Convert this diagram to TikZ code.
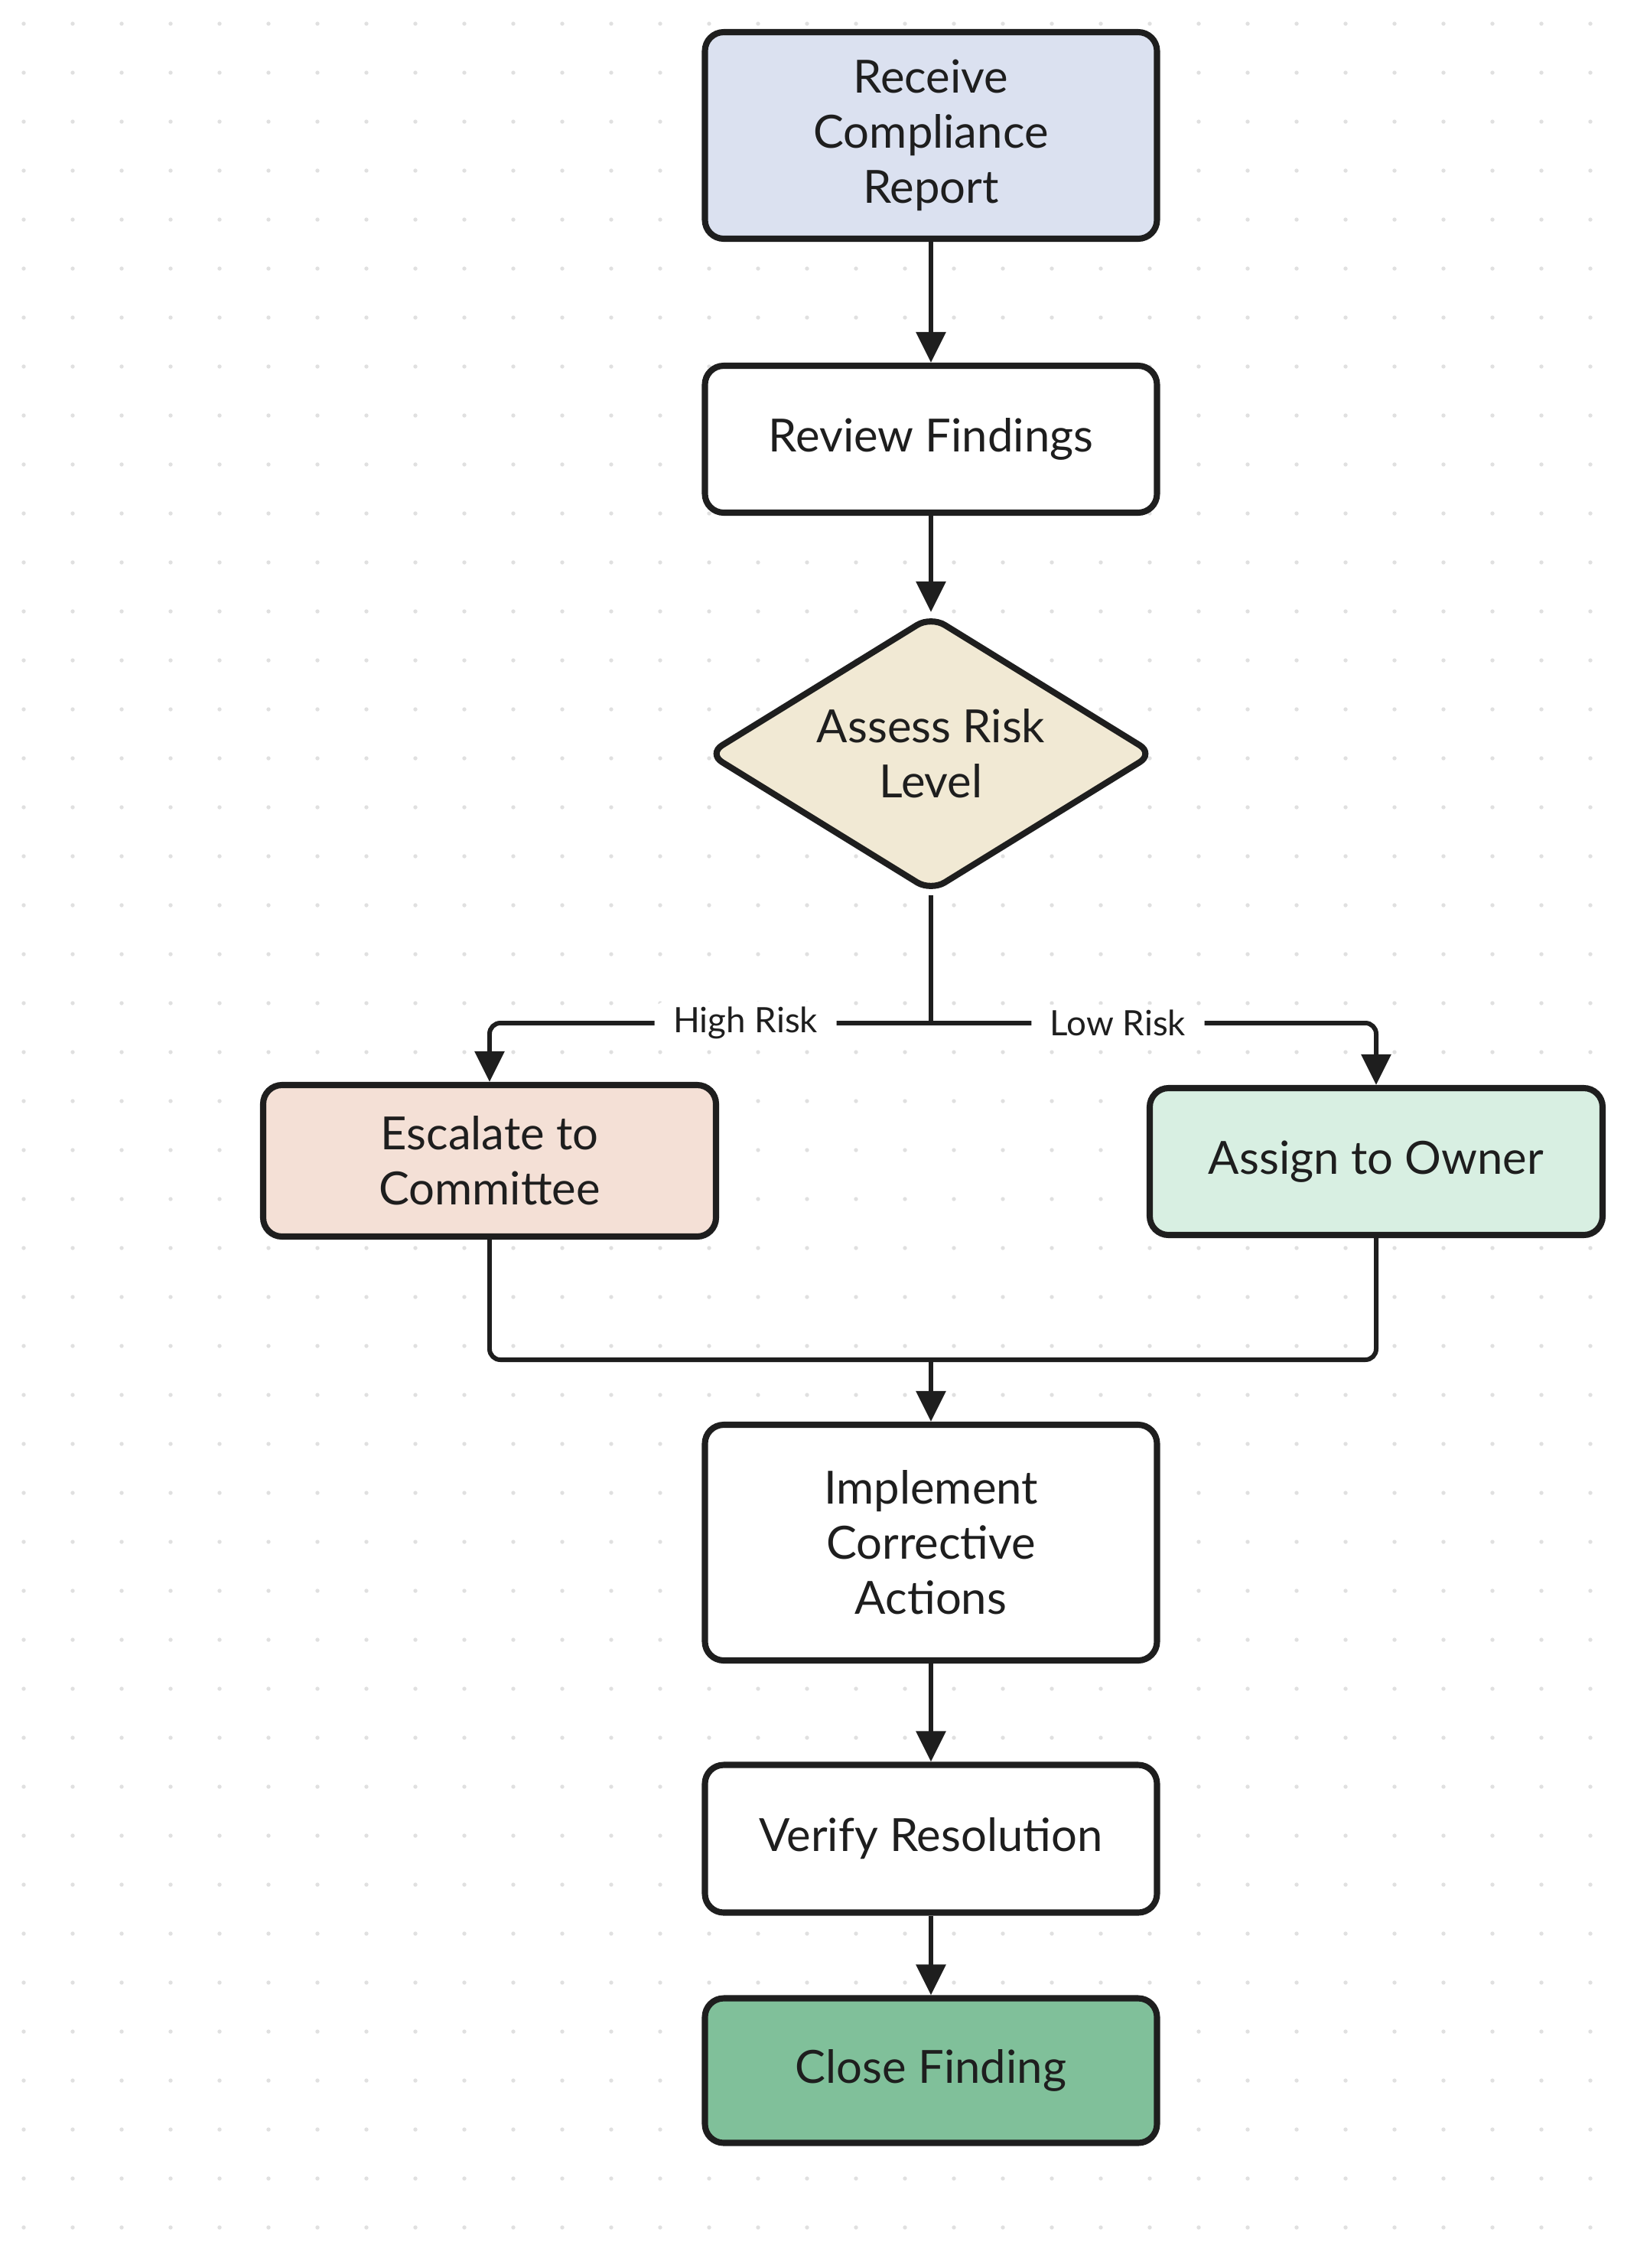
\documentclass[tikz,border=0pt]{standalone}
\usepackage{fontspec}
\setmainfont{Lato}
\usetikzlibrary{shapes.geometric,arrows.meta,positioning,calc}

\definecolor{inkblack}{HTML}{1E1E1E}
\definecolor{startblue}{HTML}{DBE1F0}
\definecolor{decisionsand}{HTML}{F1E9D4}
\definecolor{escalatepeach}{HTML}{F4E0D6}
\definecolor{ownermint}{HTML}{D8EFE2}
\definecolor{closegreen}{HTML}{80C09A}
\definecolor{griddot}{HTML}{E0E0E0}

\tikzset{
  stepbox/.style={draw=inkblack, line width=2.3pt, rounded corners=7pt, fill=white,
    minimum width=5.91cm, minimum height=1.92cm, align=center, text=inkblack,
    font=\fontsize{17}{20.5}\selectfont},
  decision/.style={diamond, draw=inkblack, line width=2.3pt, rounded corners=6pt,
    fill=decisionsand, aspect=1.63, minimum width=5.85cm, minimum height=3.62cm,
    inner sep=0pt, align=center, text=inkblack, font=\fontsize{17}{20.5}\selectfont},
  flow/.style={draw=inkblack, line width=1.7pt, rounded corners=4pt,
    -{Triangle[length=4mm,width=3.8mm]}},
  link/.style={draw=inkblack, line width=1.7pt, rounded corners=4pt},
  risklabel/.style={fill=white, text=inkblack, inner xsep=7pt, inner ysep=2pt,
    font=\fontsize{13}{15}\selectfont}
}

\begin{document}
\begin{tikzpicture}

% ================= BACKGROUND: DOT GRID =================
\useasboundingbox[fill=white] (0,0) rectangle (21.40,-29.64);
\foreach \gx in {0,...,32}
  \foreach \gy in {0,...,45}
    \fill[griddot] ({0.31+0.64*\gx},{-0.31-0.64*\gy}) circle (0.027);

% ================= MAIN COLUMN =================
\node[stepbox, fill=startblue, minimum height=2.70cm] (receive) at (12.17,-1.77)
{Receive\\Compliance\\Report};

\node[stepbox] (review) at (12.17,-5.74) {Review Findings};

\node[decision] (assess) at (12.17,-9.85) {Assess Risk\\Level};

% ================= BRANCHES =================
\node[stepbox, fill=escalatepeach, minimum width=5.92cm, minimum height=1.98cm]
(escalate) at (6.40,-15.17) {Escalate to\\Committee};

\node[stepbox, fill=ownermint, minimum width=5.92cm] (assign) at (17.99,-15.18)
{Assign to Owner};

\coordinate (split) at (12.17,-13.37);
\coordinate (merge) at (12.17,-17.77);

% ================= LOWER COLUMN =================
\node[stepbox, minimum height=3.08cm] (implement) at (12.17,-20.16)
{Implement\\Corrective\\Actions};

\node[stepbox, minimum height=1.93cm] (verify) at (12.17,-24.03) {Verify Resolution};

\node[stepbox, fill=closegreen, minimum height=1.89cm] (close) at (12.17,-27.06)
{Close Finding};

% Connectors
\draw[flow] (receive) -- (review);
\draw[flow] (review) -- (assess);
\draw[link] (assess.south) -- (split);
\draw[flow] (split) -| node[risklabel, pos=0.21] {High Risk} (escalate.north);
\draw[flow] (split) -| node[risklabel, pos=0.21] {Low Risk} (assign.north);
\draw[link] (escalate.south) |- (merge);
\draw[link] (assign.south) |- (merge);
\draw[flow] (merge) -- (implement.north);
\draw[flow] (implement) -- (verify);
\draw[flow] (verify) -- (close);

\end{tikzpicture}
\end{document}
